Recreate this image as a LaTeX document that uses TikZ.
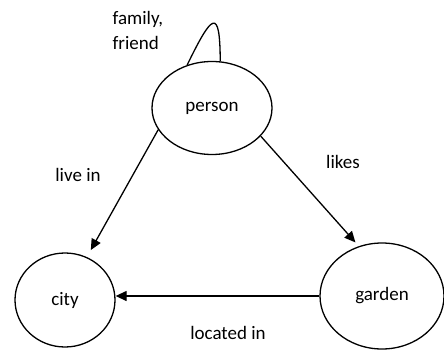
\documentclass[tikz,border=0pt]{standalone}
\usepackage{fontspec}
\setmainfont{Carlito}
\usetikzlibrary{shapes.geometric,arrows.meta}

\begin{document}
\begin{tikzpicture}[x=1pt, y=-1pt, line width=1.3pt,
    font=\fontsize{19}{25}\selectfont,
    entity/.style={draw, ellipse, inner sep=0pt},
    rel/.style={-{Triangle[length=11pt, width=10pt]}}]
    \useasboundingbox (0,0) rectangle (444,350);

    % Draw entities
    \node[entity, minimum width=120pt, minimum height=93pt] (person) at (212,108) {person};
    \node[entity, minimum width=100pt, minimum height=94pt] (city) at (65,300) {city};
    \node[entity, minimum width=124pt, minimum height=106pt] (garden) at (382,296) {garden};

    % Relation labels
    \node[align=left, anchor=west, inner sep=0pt] (familyfriend) at (112,30) {family,\\friend};
    \node (livein) at (78,175) {live in};
    \node (likes) at (343,162) {likes};
    \node (locatedin) at (228,333) {located in};

    % Draw relations
    \draw (person.120) .. controls (212,14) and (220,6) .. (person.80);
    \draw[rel, shorten >=8pt] (person.202) -- (city.63);
    \draw[rel, shorten >=5pt] (person.330) -- (garden.115);
    \draw[rel] (garden.west) -- (city.east |- garden.west);

\end{tikzpicture}
\end{document}
